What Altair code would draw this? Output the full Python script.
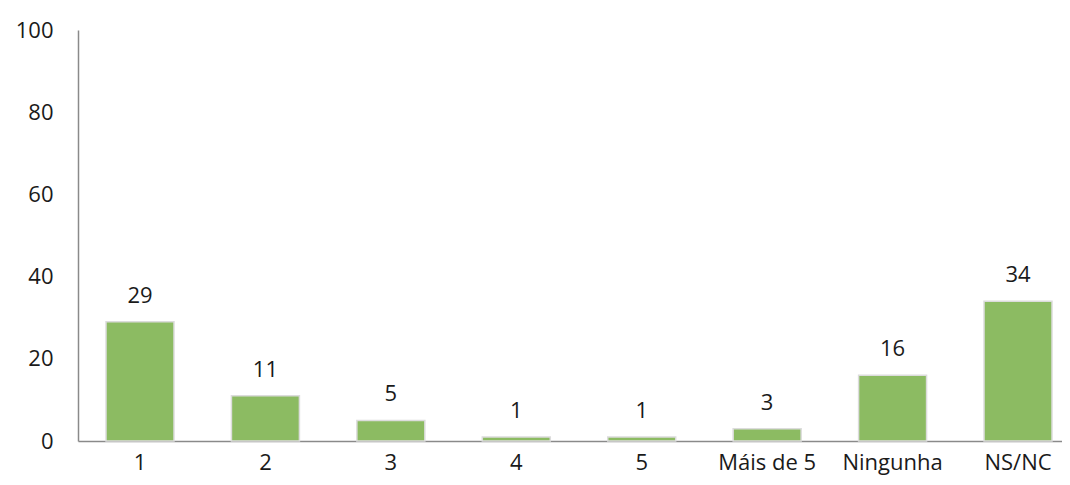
import altair as alt
import pandas as pd

categories = ["1", "2", "3", "4", "5", "Máis de 5", "Ningunha", "NS/NC"]
values = [29, 11, 5, 1, 1, 3, 16, 34]
y_ticks = [0, 20, 40, 60, 80, 100]

df = pd.DataFrame({"cat": categories, "val": values})

FONT = "Open Sans"
TXT = "#1a1a1a"

x = alt.X("cat:N", sort=categories, title=None,
          scale=alt.Scale(paddingInner=0.458, paddingOuter=0.1515, align=0.737, round=False),
          axis=alt.Axis(labelAngle=0, ticks=False, tickSize=0, labelPadding=11,
                        labelFont=FONT, labelFontSize=22, labelColor=TXT,
                        domainColor="#8a8a8a", domainWidth=1.5))
y = alt.Y("val:Q", title=None,
          scale=alt.Scale(domain=[0, 100], nice=False),
          axis=alt.Axis(values=y_ticks, grid=False, ticks=False, tickSize=0,
                        labelPadding=25, labelFont=FONT, labelFontSize=22,
                        labelColor=TXT, domainColor="#8a8a8a", domainWidth=1.5))

bars = alt.Chart(df).mark_bar(color="#8cbb62", stroke="#dcdcdc", strokeWidth=1.5).encode(x=x, y=y)
labels = alt.Chart(df).mark_text(baseline="alphabetic", dy=-19, font=FONT, fontSize=22,
                                 color=TXT).encode(x=alt.X("cat:N", sort=categories),
                                                   y="val:Q", text="val:Q")

chart = (bars + labels).properties(
    width=984, height=411,
    background="white",
    autosize=alt.AutoSizeParams(type="none"),
    padding={"left": 70, "top": 22, "right": 0, "bottom": 35},
).configure_view(stroke=None)

chart.save("out.html", embed_options={"renderer": "svg", "actions": False})
